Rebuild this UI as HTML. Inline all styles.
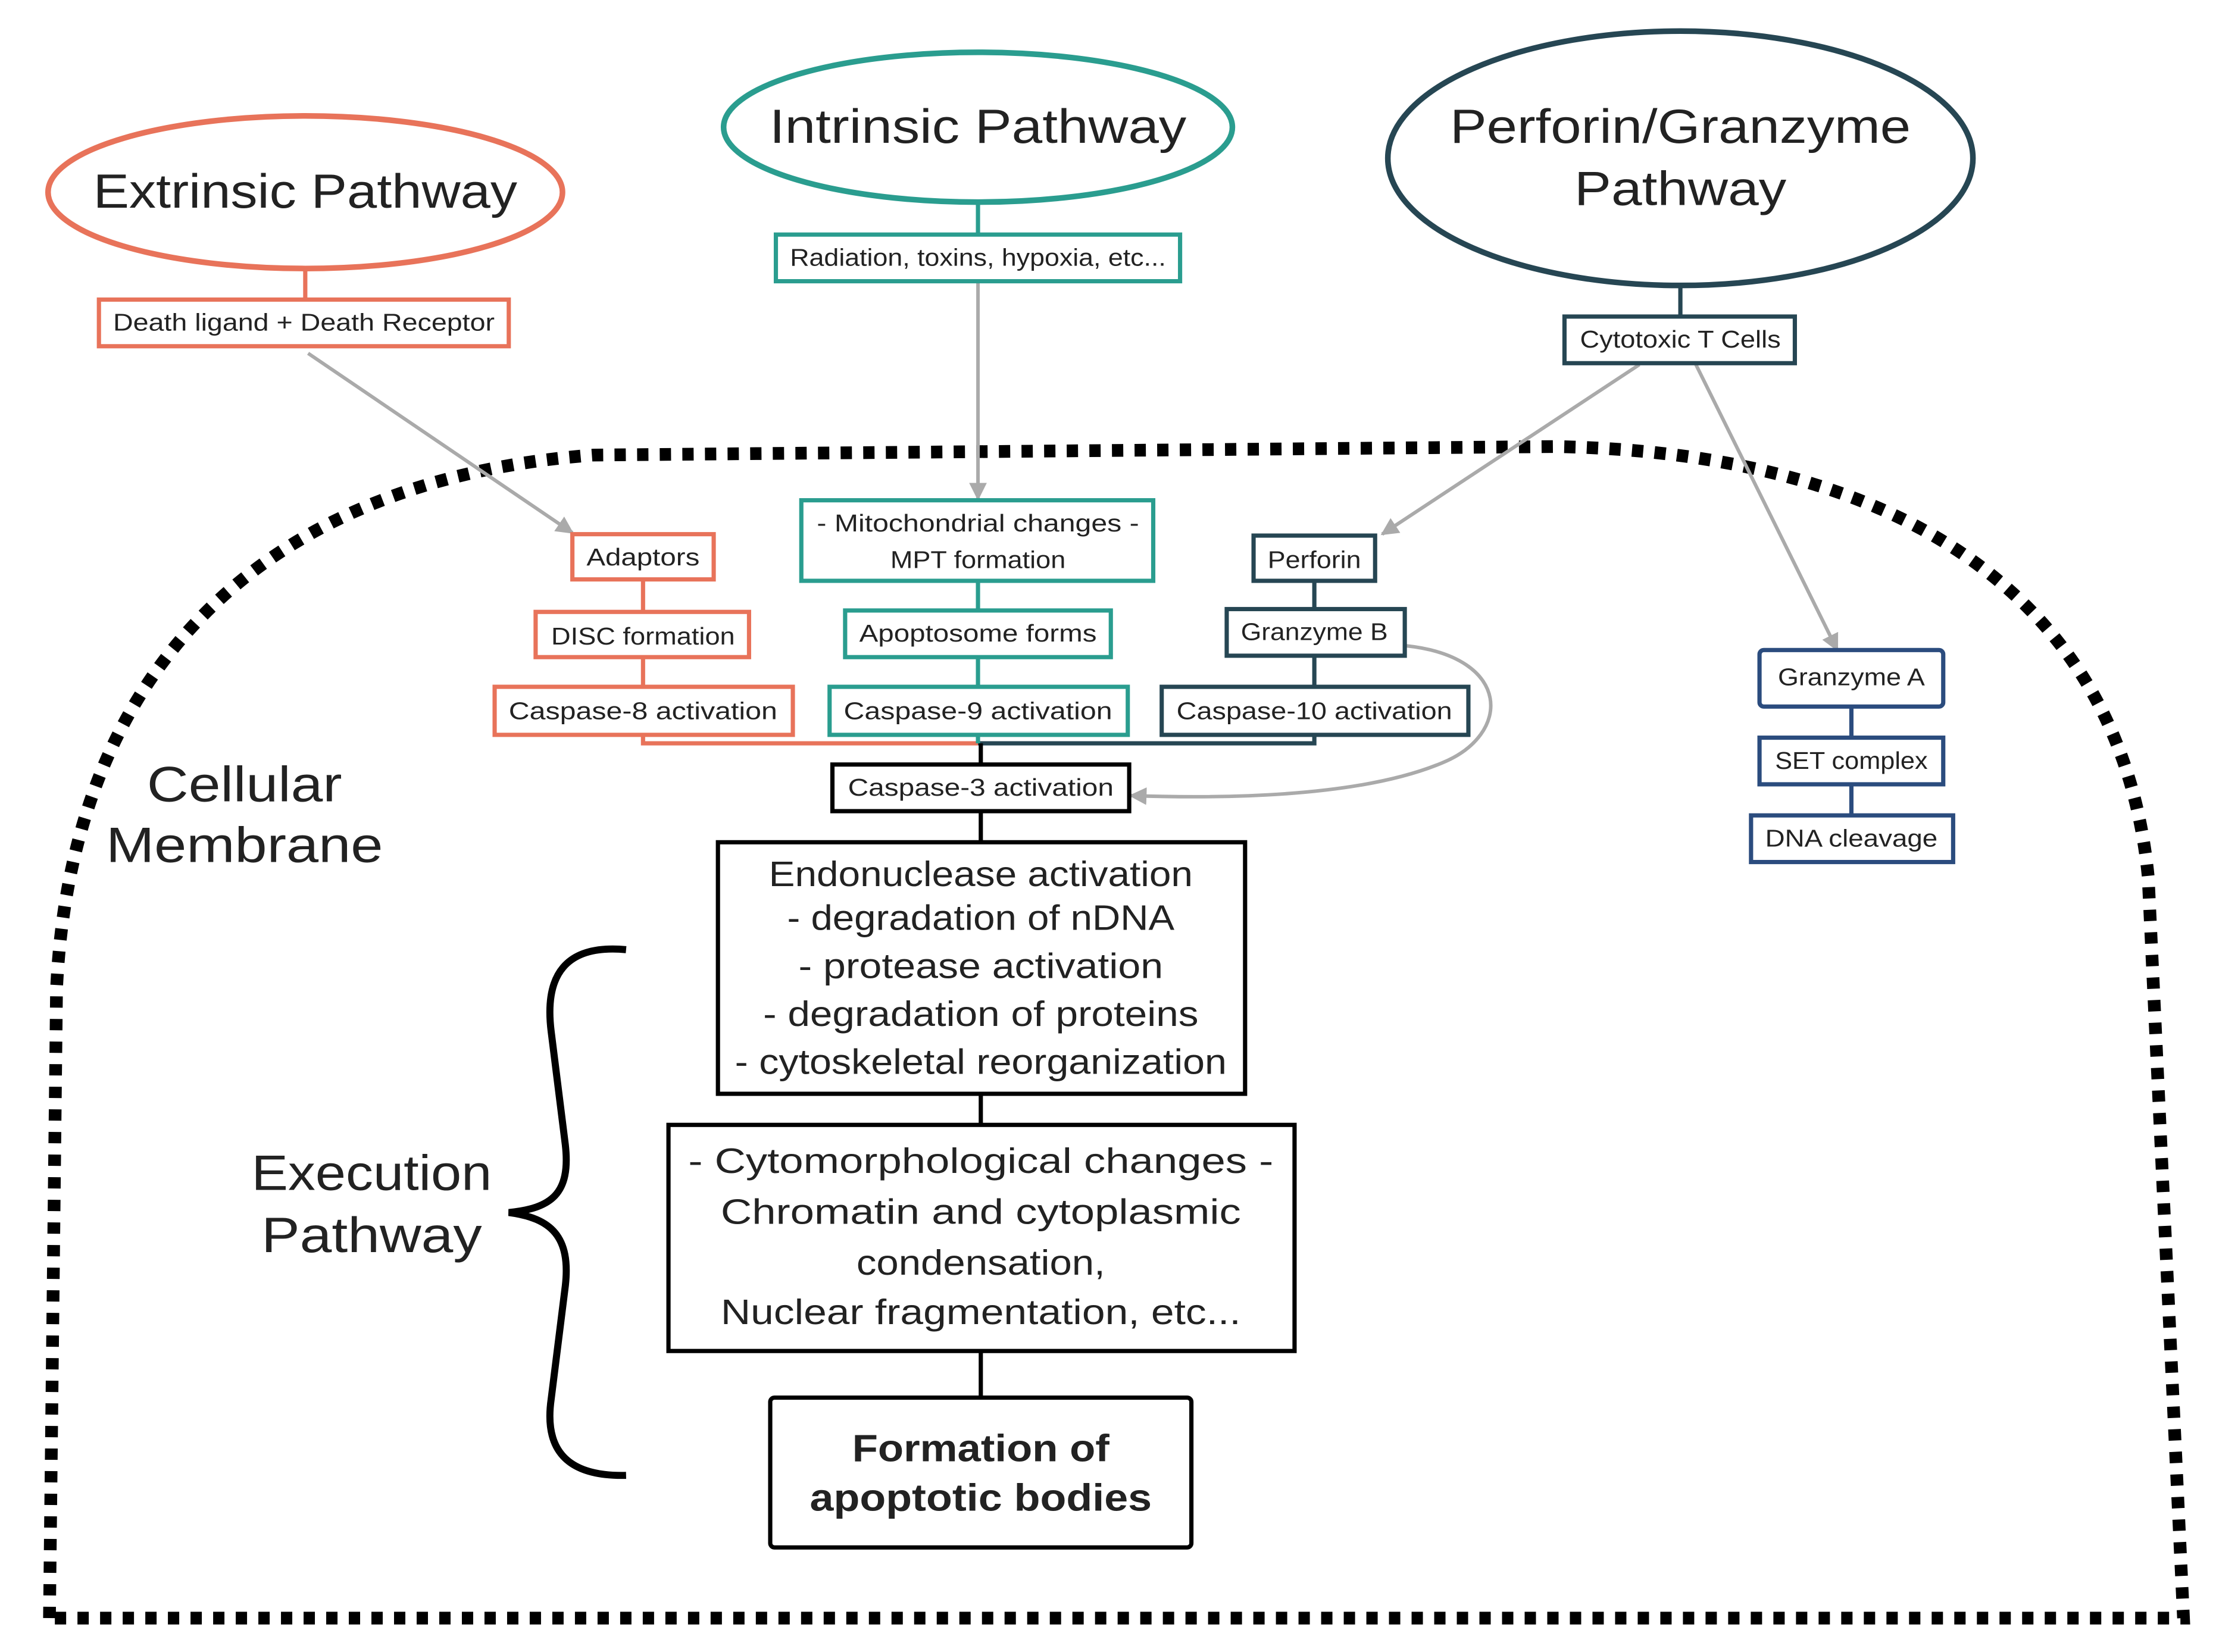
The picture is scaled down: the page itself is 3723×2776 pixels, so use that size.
<!DOCTYPE html>
<html><head><meta charset="utf-8"><style>html,body{margin:0;padding:0;background:#fff}svg{display:block}text{font-family:"Liberation Sans",sans-serif;fill:#222}</style></head>
<body>
<svg width="3723" height="2776" viewBox="0 0 1568 1169" preserveAspectRatio="none" xmlns="http://www.w3.org/2000/svg">
<defs>
<marker id="ar" viewBox="0 0 10 10" refX="9" refY="5" markerWidth="5" markerHeight="5" orient="auto"><path d="M0,0 L10,5 L0,10 z" fill="#aaa"/></marker>
</defs>
<path d="M35,1145 L40,700 C50,480 180,340 420,322 L1100,316 C1340,320 1500,420 1520,620 L1545,1145 Z" fill="none" stroke="#000" stroke-width="9" stroke-dasharray="8 8"/>
<ellipse cx="216" cy="136" rx="182" ry="54" fill="none" stroke="#E8735A" stroke-width="4"/>
<text x="216" y="147" font-size="34" text-anchor="middle" textLength="300" lengthAdjust="spacingAndGlyphs">Extrinsic Pathway</text>
<ellipse cx="692" cy="90" rx="180" ry="53" fill="none" stroke="#2A9D8F" stroke-width="4"/>
<text x="692" y="101" font-size="34" text-anchor="middle" textLength="295" lengthAdjust="spacingAndGlyphs">Intrinsic Pathway</text>
<ellipse cx="1189" cy="112" rx="207" ry="90" fill="none" stroke="#264653" stroke-width="4"/>
<text x="1189" y="101" font-size="34" text-anchor="middle" textLength="326" lengthAdjust="spacingAndGlyphs">Perforin/Granzyme</text>
<text x="1189" y="145" font-size="34" text-anchor="middle" textLength="150" lengthAdjust="spacingAndGlyphs">Pathway</text>
<g stroke-width="3" fill="none">
<line x1="216" y1="190" x2="216" y2="212" stroke="#E8735A"/>
<line x1="692" y1="143" x2="692" y2="166" stroke="#2A9D8F"/>
<line x1="1189" y1="202" x2="1189" y2="224" stroke="#264653"/>
<line x1="455" y1="410" x2="455" y2="433" stroke="#E8735A"/>
<line x1="455" y1="465" x2="455" y2="486" stroke="#E8735A"/>
<line x1="692" y1="411" x2="692" y2="432" stroke="#2A9D8F"/>
<line x1="692" y1="465" x2="692" y2="486" stroke="#2A9D8F"/>
<line x1="930" y1="411" x2="930" y2="431" stroke="#264653"/>
<line x1="930" y1="464" x2="930" y2="486" stroke="#264653"/>
<path d="M455,520 V526 H692" stroke="#E8735A"/>
<path d="M930,520 V526 H692" stroke="#264653"/>
<line x1="692" y1="520" x2="692" y2="526" stroke="#2A9D8F"/>
<line x1="694" y1="526" x2="694" y2="541" stroke="#000"/>
<line x1="694" y1="574" x2="694" y2="596" stroke="#000"/>
<line x1="694" y1="774" x2="694" y2="796" stroke="#000"/>
<line x1="694" y1="956" x2="694" y2="989" stroke="#000"/>
<line x1="1310" y1="500" x2="1310" y2="522" stroke="#2B4C7E"/>
<line x1="1310" y1="555" x2="1310" y2="577" stroke="#2B4C7E"/>
</g>
<g stroke="#aaa" stroke-width="2.5" fill="none" marker-end="url(#ar)">
<line x1="218" y1="250" x2="405" y2="377"/>
<line x1="692" y1="200" x2="692" y2="353"/>
<line x1="1160" y1="258" x2="978" y2="378"/>
<line x1="1200" y1="258" x2="1300" y2="460"/>
<path d="M995,457 C1070,465 1070,520 1020,540 C960,565 860,565 800,563"/>
</g>
<g fill="#fff" stroke-width="3">
<rect x="70" y="212" width="290" height="33" stroke="#E8735A"/>
<rect x="549" y="166" width="286" height="33" stroke="#2A9D8F"/>
<rect x="1107" y="224" width="163" height="33" stroke="#264653"/>
<rect x="405" y="378" width="100" height="32" stroke="#E8735A"/>
<rect x="379" y="433" width="151" height="32" stroke="#E8735A"/>
<rect x="350" y="486" width="211" height="34" stroke="#E8735A"/>
<rect x="567" y="354" width="249" height="57" stroke="#2A9D8F"/>
<rect x="598" y="432" width="188" height="33" stroke="#2A9D8F"/>
<rect x="587" y="486" width="211" height="34" stroke="#2A9D8F"/>
<rect x="887" y="379" width="86" height="32" stroke="#264653"/>
<rect x="868" y="431" width="126" height="33" stroke="#264653"/>
<rect x="822" y="486" width="217" height="34" stroke="#264653"/>
<rect x="589" y="541" width="210" height="33" stroke="#000"/>
<rect x="1245" y="460" width="130" height="40" rx="3" stroke="#2B4C7E"/>
<rect x="1245" y="522" width="130" height="33" stroke="#2B4C7E"/>
<rect x="1239" y="577" width="143" height="33" stroke="#2B4C7E"/>
<rect x="508" y="596" width="373" height="178" stroke="#000"/>
<rect x="473" y="796" width="443" height="160" stroke="#000"/>
<rect x="545" y="989" width="298" height="106" rx="3" stroke="#000"/>
</g>
<g font-size="17" text-anchor="middle">
<text x="215" y="234" textLength="270" lengthAdjust="spacingAndGlyphs">Death ligand + Death Receptor</text>
<text x="692" y="188" textLength="266" lengthAdjust="spacingAndGlyphs">Radiation, toxins, hypoxia, etc...</text>
<text x="1189" y="246" textLength="142" lengthAdjust="spacingAndGlyphs">Cytotoxic T Cells</text>
<text x="455" y="400" textLength="80" lengthAdjust="spacingAndGlyphs">Adaptors</text>
<text x="455" y="456" textLength="130" lengthAdjust="spacingAndGlyphs">DISC formation</text>
<text x="455" y="509" textLength="190" lengthAdjust="spacingAndGlyphs">Caspase-8 activation</text>
<text x="692" y="376" textLength="228" lengthAdjust="spacingAndGlyphs">- Mitochondrial changes -</text>
<text x="692" y="402" textLength="124" lengthAdjust="spacingAndGlyphs">MPT formation</text>
<text x="692" y="454" textLength="168" lengthAdjust="spacingAndGlyphs">Apoptosome forms</text>
<text x="692" y="509" textLength="190" lengthAdjust="spacingAndGlyphs">Caspase-9 activation</text>
<text x="930" y="402" textLength="66" lengthAdjust="spacingAndGlyphs">Perforin</text>
<text x="930" y="453" textLength="104" lengthAdjust="spacingAndGlyphs">Granzyme B</text>
<text x="930" y="509" textLength="195" lengthAdjust="spacingAndGlyphs">Caspase-10 activation</text>
<text x="694" y="563" textLength="188" lengthAdjust="spacingAndGlyphs">Caspase-3 activation</text>
<text x="1310" y="485" textLength="104" lengthAdjust="spacingAndGlyphs">Granzyme A</text>
<text x="1310" y="544" textLength="108" lengthAdjust="spacingAndGlyphs">SET complex</text>
<text x="1310" y="599" textLength="122" lengthAdjust="spacingAndGlyphs">DNA cleavage</text>
</g>
<g font-size="25" text-anchor="middle">
<text x="694" y="627" textLength="300" lengthAdjust="spacingAndGlyphs">Endonuclease activation</text>
<text x="694" y="658" textLength="274" lengthAdjust="spacingAndGlyphs">- degradation of nDNA</text>
<text x="694" y="692" textLength="258" lengthAdjust="spacingAndGlyphs">- protease activation</text>
<text x="694" y="726" textLength="308" lengthAdjust="spacingAndGlyphs">- degradation of proteins</text>
<text x="694" y="760" textLength="348" lengthAdjust="spacingAndGlyphs">- cytoskeletal reorganization</text>
<text x="694" y="830" textLength="414" lengthAdjust="spacingAndGlyphs">- Cytomorphological changes -</text>
<text x="694" y="866" textLength="368" lengthAdjust="spacingAndGlyphs">Chromatin and cytoplasmic</text>
<text x="694" y="902" textLength="176" lengthAdjust="spacingAndGlyphs">condensation,</text>
<text x="694" y="937" textLength="368" lengthAdjust="spacingAndGlyphs">Nuclear fragmentation, etc...</text>
</g>
<g font-size="27" font-weight="bold" text-anchor="middle">
<text x="694" y="1034" textLength="182" lengthAdjust="spacingAndGlyphs">Formation of</text>
<text x="694" y="1069" textLength="242" lengthAdjust="spacingAndGlyphs">apoptotic bodies</text>
</g>
<g font-size="35" text-anchor="middle">
<text x="173" y="567" textLength="138" lengthAdjust="spacingAndGlyphs">Cellular</text>
<text x="173" y="610" textLength="196" lengthAdjust="spacingAndGlyphs">Membrane</text>
<text x="263" y="842" textLength="170" lengthAdjust="spacingAndGlyphs">Execution</text>
<text x="263" y="886" textLength="156" lengthAdjust="spacingAndGlyphs">Pathway</text>
</g>
<path d="M443,672 C400,668 385,690 390,730 L400,810 C404,845 390,855 360,858 C390,862 404,875 400,910 L390,990 C385,1025 400,1045 443,1044" fill="none" stroke="#000" stroke-width="5"/>
</svg>
</body></html>
